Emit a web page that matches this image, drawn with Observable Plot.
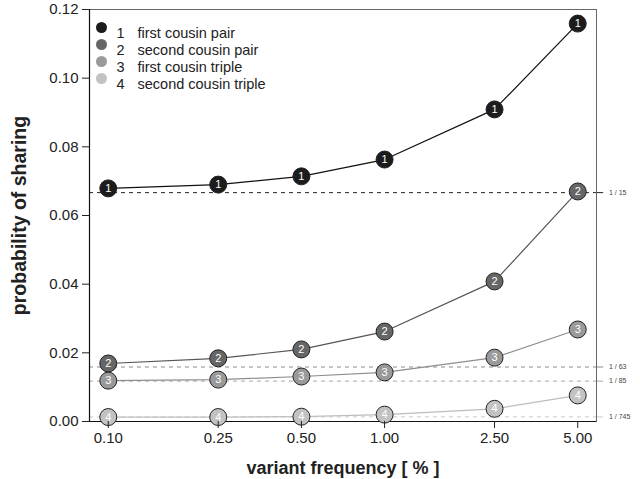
<!DOCTYPE html>
<html>
<head>
<meta charset="utf-8">
<script src="https://cdn.jsdelivr.net/npm/d3@7"></script>
<script src="https://cdn.jsdelivr.net/npm/@observablehq/plot@0.6"></script>
<style>
  body { margin: 0; background: #fff; }
  #chart svg [aria-label="y-axis label"] text,
  #chart svg [aria-label="y-axis label"] { font-weight: bold; font-size: 19.5px; fill: #222; }
  #chart svg [aria-label="x-axis label"] text,
  #chart svg [aria-label="x-axis label"] { font-weight: bold; font-size: 18px; fill: #222; }
</style>
</head>
<body>
<div id="chart"></div>
<script>
// ---- data ----
const freqs = [0.10, 0.25, 0.50, 1.00, 2.50, 5.00];
const s1 = [0.0679, 0.0690, 0.0714, 0.0763, 0.0909, 0.1159];
const s2 = [0.0169, 0.0184, 0.0210, 0.0262, 0.0408, 0.0670];
const s3 = [0.0119, 0.0122, 0.0131, 0.0143, 0.0186, 0.0268];
const s4 = [0.0013, 0.0013, 0.0014, 0.0020, 0.0037, 0.0076];
const seriesIds = ["1", "2", "3", "4"];
const seriesNames = ["first cousin pair", "second cousin pair", "first cousin triple", "second cousin triple"];
const refDenoms = [15, 63, 85, 745];
const refLabels = ["1 / 15", "1 / 63", "1 / 85", "1 / 745"];
const xTicks = [0.10, 0.25, 0.50, 1.00, 2.50, 5.00];
const yTicks = [0.00, 0.02, 0.04, 0.06, 0.08, 0.10, 0.12];

// ---- styles ----
const fills = ["#1c1c1c", "#666666", "#9a9a9a", "#c2c2c2"];
const lineColors = ["#111111", "#555555", "#8e8e8e", "#bdbdbd"];
const refColors = ["#222222", "#8a8a8a", "#a8a8a8", "#cccccc"];

const allSeries = [s1, s2, s3, s4];
const points = [];
allSeries.forEach((vals, i) => vals.forEach((v, j) => points.push({id: seriesIds[i], k: i, f: freqs[j], p: v})));
const refs = refDenoms.map((d, i) => ({k: i, p: 1 / d, label: refLabels[i]}));

const logSpan = Math.log10(freqs[freqs.length - 1] / freqs[0]);
const xLo = freqs[0] / Math.pow(10, 0.04 * logSpan);
const xHi = freqs[freqs.length - 1] * Math.pow(10, 0.04 * logSpan);
const xOut = freqs[freqs.length - 1] * Math.pow(10, 0.04 * logSpan + 0.026);
const xLab = freqs[freqs.length - 1] * Math.pow(10, 0.04 * logSpan + 0.045);

const marks = [];
// reference dashed lines
refs.forEach(r => {
  marks.push(Plot.ruleY([r], {y: "p", x1: xLo, x2: xHi, stroke: refColors[r.k], strokeWidth: 1, strokeDasharray: "4,4"}));
  marks.push(Plot.ruleY([r], {y: "p", x1: xHi, x2: xOut, stroke: refColors[r.k], strokeWidth: 1}));
  marks.push(Plot.text([r], {y: "p", x: xLab, text: "label", textAnchor: "start", fontSize: 7, fill: "#444"}));
});
// frame
marks.push(Plot.frame({stroke: "#666", strokeWidth: 1}));
marks.push(Plot.ruleX([xLo], {stroke: "#111", strokeWidth: 1.2}));
marks.push(Plot.ruleY([0], {stroke: "#111", strokeWidth: 1.2}));
// series
allSeries.forEach((vals, i) => {
  const d = points.filter(p => p.k === i);
  marks.push(Plot.line(d, {x: "f", y: "p", stroke: lineColors[i], strokeWidth: 1.2}));
});
allSeries.forEach((vals, i) => {
  const d = points.filter(p => p.k === i);
  marks.push(Plot.dot(d, {x: "f", y: "p", r: 8.5, fill: fills[i], stroke: "#222", strokeWidth: 1}));
  marks.push(Plot.text(d, {x: "f", y: "p", text: "id", fill: "#fff", fontSize: 11}));
});
// legend (inside top-left)
seriesIds.forEach((id, i) => {
  marks.push(Plot.dot([id], {frameAnchor: "top-left", dx: 12, dy: 18 + i * 17, r: 5.5, fill: fills[i]}));
  marks.push(Plot.text([id], {frameAnchor: "top-left", dx: 27, dy: 18 + i * 17, text: d => d, textAnchor: "start", fontSize: 14.5, fill: "#222"}));
  marks.push(Plot.text([seriesNames[i]], {frameAnchor: "top-left", dx: 48, dy: 18 + i * 17, text: d => d, textAnchor: "start", fontSize: 14.5, fill: "#222"}));
});
// axes
marks.push(Plot.axisY({ticks: yTicks, tickFormat: ".2f", tickSize: 7, tickPadding: 4, fontSize: 15, label: "probability of sharing", labelAnchor: "center", labelArrow: "none", labelOffset: 77}));
marks.push(Plot.axisX({ticks: xTicks, tickFormat: ".2f", tickSize: 7, tickPadding: 4, fontSize: 15, label: "variant frequency [ % ]", labelAnchor: "center", labelArrow: "none", labelOffset: 52}));

const chart = Plot.plot({
  width: 640,
  height: 479,
  marginLeft: 89,
  marginRight: 44,
  marginTop: 9,
  marginBottom: 58,
  style: {fontFamily: "'Liberation Sans', Arial, Helvetica, sans-serif", fontSize: "15px", color: "#222", background: "#fff"},
  x: {type: "log", domain: [xLo, xHi]},
  y: {domain: [0, 0.12]},
  marks
});
document.getElementById("chart").appendChild(chart);
</script>
</body>
</html>
